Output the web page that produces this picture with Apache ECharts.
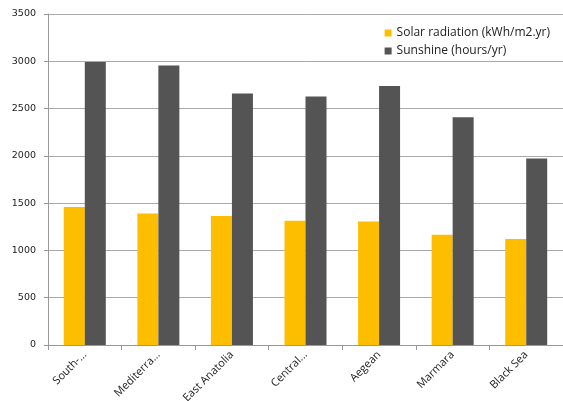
<!DOCTYPE html>
<html>
<head>
<meta charset="utf-8">
<script src="https://cdn.jsdelivr.net/npm/echarts@6/dist/echarts.min.js"></script>
<style>
  html, body { margin: 0; padding: 0; background: #fff; }
  #graf1 { width: 563px; height: 401px; }
</style>
</head>
<body>
<div id="graf1"></div>
<script>
// regiones y etiquetas tal como se ven en el eje
var regions = ['South-East Anatolia', 'Mediterranean', 'East Anatolia', 'Central Anatolia', 'Aegean', 'Marmara', 'Black Sea'];
var tickLabels = ['South-...', 'Mediterra...', 'East Anatolia', 'Central...', 'Aegean', 'Marmara', 'Black Sea'];
var solar = [1460, 1390, 1365, 1314, 1306, 1165, 1120];
var sunshine = [2993, 2956, 2660, 2628, 2738, 2409, 1971];

var myChart = echarts.init(document.getElementById('graf1'));

var option = {
  animation: false,
  legend: {
    orient: 'vertical',
    right: 8,
    top: 22,
    icon: 'rect',
    itemWidth: 7,
    itemHeight: 7,
    itemGap: 6,
    textStyle: { fontFamily: 'Open Sans', fontSize: 12, color: '#222' },
    data: ['Solar radiation (kWh/m2.yr)', 'Sunshine (hours/yr)']
  },
  grid: { left: 48, right: 0, top: 14, bottom: 56, outerBoundsMode: 'none' },
  xAxis: {
    type: 'category',
    data: regions,
    axisLine: { lineStyle: { color: '#999' } },
    axisTick: { show: true, length: 5, lineStyle: { color: '#999' } },
    axisLabel: {
      rotate: 45,
      margin: 8,
      fontFamily: 'Open Sans',
      fontSize: 11,
      color: '#222',
      formatter: function (v, i) { return tickLabels[i]; }
    }
  },
  yAxis: {
    type: 'value',
    min: 0,
    max: 3500,
    interval: 500,
    axisLine: { show: true, lineStyle: { color: '#999' } },
    axisTick: { show: true, length: 4, lineStyle: { color: '#999' } },
    axisLabel: {
      fontFamily: 'DejaVu Sans', fontSize: 9.5, color: '#222', margin: 12,
      formatter: function (v) { return String(v); }
    },
    splitLine: { lineStyle: { color: '#aaa' } }
  },
  series: [
    {
      name: 'Solar radiation (kWh/m2.yr)',
      type: 'bar',
      barWidth: 21,
      barGap: '0%',
      itemStyle: { color: '#FDBE00' },
      data: solar
    },
    {
      name: 'Sunshine (hours/yr)',
      type: 'bar',
      barWidth: 21,
      itemStyle: { color: '#545454' },
      data: sunshine
    }
  ]
};
myChart.setOption(option);
</script>
</body>
</html>
